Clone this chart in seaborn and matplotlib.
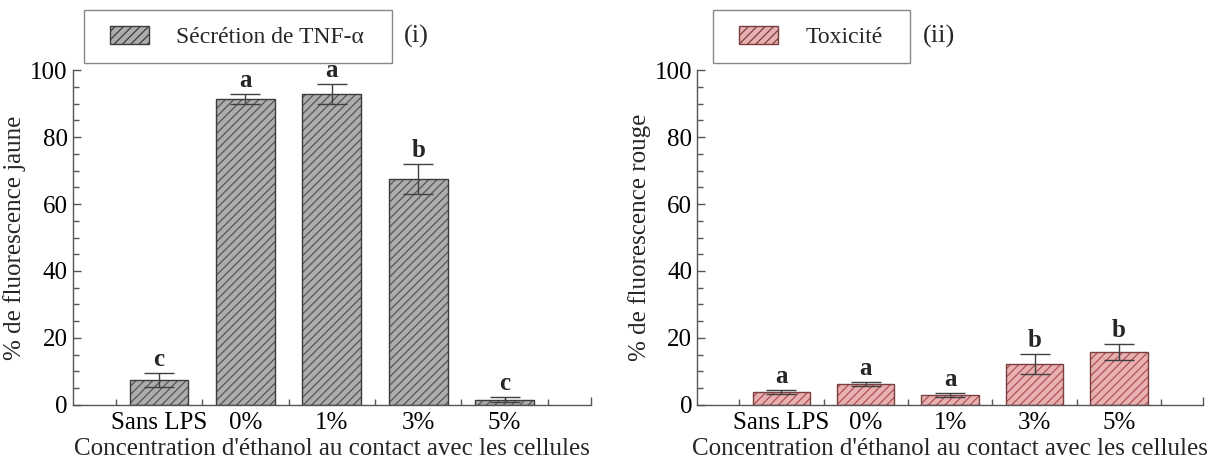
import numpy as np
import pandas as pd
import matplotlib
matplotlib.use("Agg")
import matplotlib.pyplot as plt
from matplotlib.patches import Patch, Rectangle
from matplotlib.ticker import MultipleLocator, FixedLocator
import seaborn as sns

# Data
categories = ["Sans LPS", "0%", "1%", "3%", "5%"]
tnf_mean = [7.4, 91.4, 92.9, 67.5, 1.5]
tnf_err = [2.0, 1.4, 3.1, 4.6, 0.8]
tnf_letters = ["c", "a", "a", "b", "c"]
tox_mean = [3.9, 6.2, 2.9, 12.2, 15.8]
tox_err = [0.6, 0.6, 0.5, 3.1, 2.4]
tox_letters = ["a", "a", "a", "b", "b"]

sns.set_theme(style="ticks")
plt.rcParams['font.family'] = ['Liberation Serif', 'DejaVu Serif']
plt.rcParams['hatch.linewidth'] = 0.9

fig = plt.figure(figsize=(12.11, 4.68), dpi=100)
ax1 = fig.add_axes([0.060, 0.135, 0.428, 0.715])
ax2 = fig.add_axes([0.5756, 0.135, 0.418, 0.715])

panels = [
    (ax1, tnf_mean, tnf_err, tnf_letters, "#adadad", "#555555", "#3c3c3c",
     "Sécrétion de TNF-α", "(i)", "% de fluorescence jaune", 37),
    (ax2, tox_mean, tox_err, tox_letters, "#e8b0b0", "#b0505a", "#7a4040",
     "Toxicité", "(ii)", "% de fluorescence rouge", 42),
]

fig.canvas.draw()
for ax, mean, err, letters, fill, hatch_col, edge, leg_label, tag, ylab, hx in panels:
    df = pd.DataFrame({"cat": categories, "val": mean})
    sns.barplot(data=df, x="cat", y="val", ax=ax, color=fill, width=0.68,
                saturation=1, errorbar=None, zorder=2)
    for p in ax.patches:
        p.set_facecolor(fill)
        p.set_hatch("////")
        p.set_edgecolor(hatch_col)
        p.set_linewidth(0)
        # outline drawn separately so hatch and edge can differ
        ax.add_patch(Rectangle(p.get_xy(), p.get_width(), p.get_height(),
                               fill=False, edgecolor=edge, linewidth=1.0, zorder=3))
    x = np.arange(len(categories))
    ax.errorbar(x, mean, yerr=err, fmt="none", ecolor="#404040", elinewidth=1.0,
                capsize=11, capthick=1.0, zorder=4)
    for xi, m, e, lt in zip(x, mean, err, letters):
        ax.text(xi, m + e + 0.6, lt, ha="center", va="bottom", fontsize=18,
                fontweight="bold")

    ax.set_xlim(-1, 5)
    ax.set_ylim(0, 100)
    ax.set_xticks([0, 1, 2, 3, 4, 5])
    ax.set_xticklabels(categories + [""])
    ax.xaxis.set_minor_locator(FixedLocator([-0.5, 0.5, 1.5, 2.5, 3.5, 4.5]))
    ax.yaxis.set_major_locator(MultipleLocator(20))
    ax.yaxis.set_minor_locator(MultipleLocator(5))
    ax.tick_params(which="both", direction="in", colors="#555555",
                   labelcolor="black", labelsize=18, width=1)
    ax.tick_params(which="major", length=6)
    ax.tick_params(which="minor", length=4)
    ax.tick_params(axis="x", pad=5)
    for s in ["top", "right"]:
        ax.spines[s].set_visible(False)
    for s in ["left", "bottom"]:
        ax.spines[s].set_color("#555555")
        ax.spines[s].set_linewidth(1.0)
    ax.set_xlabel("Concentration d'éthanol au contact avec les cellules",
                  fontsize=18, labelpad=3)
    ax.set_ylabel(ylab, fontsize=18, labelpad=3)

    # legend: handle + text, frame drawn by hand (wider side padding)
    handle = Patch(facecolor=fill, edgecolor=edge, hatch="////", linewidth=1.0)
    bb = ax.get_window_extent()
    ax_w, ax_h = bb.width, bb.height
    leg = ax.legend([handle], [leg_label], loc="center left",
                    bbox_to_anchor=(hx / ax_w, 1 + 33.5 / ax_h), fontsize=17,
                    frameon=False, handlelength=1.65, handleheight=0.8,
                    handletextpad=1.15, borderpad=0, borderaxespad=0)
    fig.canvas.draw()
    ext = leg.get_window_extent()
    cy = bb.y1 + 33.5
    x0, x1 = ext.x0 - 26, ext.x1 + 28
    y0, y1 = cy - 26.5, cy + 26.5
    inv = fig.transFigure.inverted()
    (fx0, fy0), (fx1, fy1) = inv.transform([(x0, y0), (x1, y1)])
    fig.add_artist(Rectangle((fx0, fy0), fx1 - fx0, fy1 - fy0, fill=False,
                             edgecolor="#888888", linewidth=1.0,
                             transform=fig.transFigure))
    fx_tag, fy_tag = inv.transform((x1 + 12, cy))
    fig.text(fx_tag, fy_tag, tag, ha="left", va="center", fontsize=19)

fig.savefig("out.png", dpi=100)
